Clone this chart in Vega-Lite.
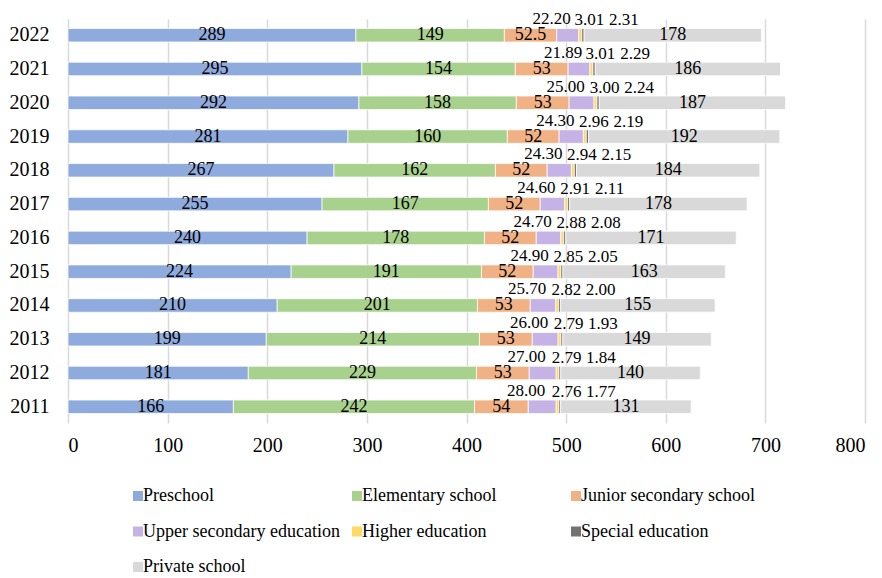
{
  "$schema": "https://vega.github.io/schema/vega-lite/v6.json",
  "width": 797,
  "height": 404,
  "autosize": {"type": "none"},
  "padding": {"left": 68, "top": 19, "right": 17, "bottom": 155},
  "background": "white",
  "config": {
    "view": {"stroke": null},
    "font": "Liberation Serif",
    "text": {"font": "Liberation Serif", "color": "black"},
    "legend": {"labelFont": "Liberation Serif", "labelFontSize": 18, "labelColor": "black"},
    "axis": {"labelFont": "Liberation Serif"}
  },
  "data": {
    "values": [
      {"year": "2022", "category": "Preschool", "value": 289},
      {"year": "2022", "category": "Elementary school", "value": 149},
      {"year": "2022", "category": "Junior secondary school", "value": 52.5},
      {"year": "2022", "category": "Upper secondary education", "value": 22.20},
      {"year": "2022", "category": "Higher education", "value": 3.01},
      {"year": "2022", "category": "Special education", "value": 2.31},
      {"year": "2022", "category": "Private school", "value": 178},
      {"year": "2021", "category": "Preschool", "value": 295},
      {"year": "2021", "category": "Elementary school", "value": 154},
      {"year": "2021", "category": "Junior secondary school", "value": 53},
      {"year": "2021", "category": "Upper secondary education", "value": 21.89},
      {"year": "2021", "category": "Higher education", "value": 3.01},
      {"year": "2021", "category": "Special education", "value": 2.29},
      {"year": "2021", "category": "Private school", "value": 186},
      {"year": "2020", "category": "Preschool", "value": 292},
      {"year": "2020", "category": "Elementary school", "value": 158},
      {"year": "2020", "category": "Junior secondary school", "value": 53},
      {"year": "2020", "category": "Upper secondary education", "value": 25.00},
      {"year": "2020", "category": "Higher education", "value": 3.00},
      {"year": "2020", "category": "Special education", "value": 2.24},
      {"year": "2020", "category": "Private school", "value": 187},
      {"year": "2019", "category": "Preschool", "value": 281},
      {"year": "2019", "category": "Elementary school", "value": 160},
      {"year": "2019", "category": "Junior secondary school", "value": 52},
      {"year": "2019", "category": "Upper secondary education", "value": 24.30},
      {"year": "2019", "category": "Higher education", "value": 2.96},
      {"year": "2019", "category": "Special education", "value": 2.19},
      {"year": "2019", "category": "Private school", "value": 192},
      {"year": "2018", "category": "Preschool", "value": 267},
      {"year": "2018", "category": "Elementary school", "value": 162},
      {"year": "2018", "category": "Junior secondary school", "value": 52},
      {"year": "2018", "category": "Upper secondary education", "value": 24.30},
      {"year": "2018", "category": "Higher education", "value": 2.94},
      {"year": "2018", "category": "Special education", "value": 2.15},
      {"year": "2018", "category": "Private school", "value": 184},
      {"year": "2017", "category": "Preschool", "value": 255},
      {"year": "2017", "category": "Elementary school", "value": 167},
      {"year": "2017", "category": "Junior secondary school", "value": 52},
      {"year": "2017", "category": "Upper secondary education", "value": 24.60},
      {"year": "2017", "category": "Higher education", "value": 2.91},
      {"year": "2017", "category": "Special education", "value": 2.11},
      {"year": "2017", "category": "Private school", "value": 178},
      {"year": "2016", "category": "Preschool", "value": 240},
      {"year": "2016", "category": "Elementary school", "value": 178},
      {"year": "2016", "category": "Junior secondary school", "value": 52},
      {"year": "2016", "category": "Upper secondary education", "value": 24.70},
      {"year": "2016", "category": "Higher education", "value": 2.88},
      {"year": "2016", "category": "Special education", "value": 2.08},
      {"year": "2016", "category": "Private school", "value": 171},
      {"year": "2015", "category": "Preschool", "value": 224},
      {"year": "2015", "category": "Elementary school", "value": 191},
      {"year": "2015", "category": "Junior secondary school", "value": 52},
      {"year": "2015", "category": "Upper secondary education", "value": 24.90},
      {"year": "2015", "category": "Higher education", "value": 2.85},
      {"year": "2015", "category": "Special education", "value": 2.05},
      {"year": "2015", "category": "Private school", "value": 163},
      {"year": "2014", "category": "Preschool", "value": 210},
      {"year": "2014", "category": "Elementary school", "value": 201},
      {"year": "2014", "category": "Junior secondary school", "value": 53},
      {"year": "2014", "category": "Upper secondary education", "value": 25.70},
      {"year": "2014", "category": "Higher education", "value": 2.82},
      {"year": "2014", "category": "Special education", "value": 2.00},
      {"year": "2014", "category": "Private school", "value": 155},
      {"year": "2013", "category": "Preschool", "value": 199},
      {"year": "2013", "category": "Elementary school", "value": 214},
      {"year": "2013", "category": "Junior secondary school", "value": 53},
      {"year": "2013", "category": "Upper secondary education", "value": 26.00},
      {"year": "2013", "category": "Higher education", "value": 2.79},
      {"year": "2013", "category": "Special education", "value": 1.93},
      {"year": "2013", "category": "Private school", "value": 149},
      {"year": "2012", "category": "Preschool", "value": 181},
      {"year": "2012", "category": "Elementary school", "value": 229},
      {"year": "2012", "category": "Junior secondary school", "value": 53},
      {"year": "2012", "category": "Upper secondary education", "value": 27.00},
      {"year": "2012", "category": "Higher education", "value": 2.79},
      {"year": "2012", "category": "Special education", "value": 1.84},
      {"year": "2012", "category": "Private school", "value": 140},
      {"year": "2011", "category": "Preschool", "value": 166},
      {"year": "2011", "category": "Elementary school", "value": 242},
      {"year": "2011", "category": "Junior secondary school", "value": 54},
      {"year": "2011", "category": "Upper secondary education", "value": 28.00},
      {"year": "2011", "category": "Higher education", "value": 2.76},
      {"year": "2011", "category": "Special education", "value": 1.77},
      {"year": "2011", "category": "Private school", "value": 131}
    ]
  },
  "transform": [
    {"calculate": "indexof(['Preschool','Elementary school','Junior secondary school','Upper secondary education','Higher education','Special education','Private school'], datum.category)", "as": "ord"},
    {"stack": "value", "groupby": ["year"], "sort": [{"field": "ord", "order": "ascending"}], "as": ["x0", "x1"]},
    {"calculate": "(datum.x0 + datum.x1) / 2", "as": "mid"}
  ],
  "encoding": {
    "y": {
      "field": "year",
      "type": "ordinal",
      "sort": "descending",
      "scale": {"paddingInner": 0.6, "paddingOuter": 0.28},
      "axis": {
        "title": null,
        "domain": false,
        "ticks": false,
        "grid": false,
        "labelFont": "Liberation Serif",
        "labelFontSize": 20,
        "labelColor": "black",
        "labelPadding": 19
      }
    }
  },
  "layer": [
    {
      "mark": {"type": "bar", "stroke": "white", "strokeWidth": 0.75},
      "encoding": {
        "x": {
          "field": "x0",
          "type": "quantitative",
          "scale": {"domain": [0, 800], "nice": false},
          "axis": {
            "title": null,
            "values": [0, 100, 200, 300, 400, 500, 600, 700, 800],
            "domain": false,
            "ticks": false,
            "grid": true,
            "gridColor": "#D9D9D9",
            "gridWidth": 1.5,
            "labelFont": "Liberation Serif",
            "labelFontSize": 20,
            "labelColor": "black",
            "labelPadding": 12
          }
        },
        "x2": {"field": "x1"},
        "color": {
          "field": "category",
          "type": "nominal",
          "sort": ["Preschool", "Elementary school", "Junior secondary school", "Upper secondary education", "Higher education", "Special education", "Private school"],
          "scale": {
            "domain": ["Preschool", "Elementary school", "Junior secondary school", "Upper secondary education", "Higher education", "Special education", "Private school"],
            "range": ["#8FAADC", "#A9D18E", "#F0B184", "#C5B3E6", "#FFD966", "#767171", "#D9D9D9"]
          },
          "legend": {
            "orient": "none",
            "legendX": 61,
            "legendY": 468,
            "direction": "horizontal",
            "columns": 3,
            "title": null,
            "symbolType": "square",
            "symbolSize": 100,
            "symbolStrokeWidth": 0,
            "labelFont": "Liberation Serif",
            "labelFontSize": 18,
            "labelColor": "black",
            "labelOffset": -4,
            "labelLimit": 0,
            "rowPadding": 17.5,
            "columnPadding": 8,
            "gridAlign": "all",
            "padding": 0
          }
        }
      }
    },
    {
      "transform": [{"filter": "indexof(['Preschool','Elementary school','Junior secondary school','Private school'], datum.category) >= 0"}],
      "mark": {"type": "text", "font": "Liberation Serif", "fontSize": 18, "baseline": "middle", "align": "center", "color": "black"},
      "encoding": {
        "x": {"field": "mid", "type": "quantitative"},
        "text": {"field": "value", "type": "nominal"}
      }
    },
    {
      "transform": [{"filter": "datum.category === 'Upper secondary education'"}],
      "mark": {"type": "text", "font": "Liberation Serif", "fontSize": 17, "baseline": "middle", "align": "center", "color": "black", "dx": -16, "dy": -16},
      "encoding": {
        "x": {"field": "mid", "type": "quantitative"},
        "text": {"field": "value", "type": "quantitative", "format": ".2f"}
      }
    },
    {
      "transform": [{"filter": "datum.category === 'Higher education'"}],
      "mark": {"type": "text", "font": "Liberation Serif", "fontSize": 17, "baseline": "middle", "align": "center", "color": "black", "dx": 9, "dy": -15},
      "encoding": {
        "x": {"field": "mid", "type": "quantitative"},
        "text": {"field": "value", "type": "quantitative", "format": ".2f"}
      }
    },
    {
      "transform": [{"filter": "datum.category === 'Special education'"}],
      "mark": {"type": "text", "font": "Liberation Serif", "fontSize": 17, "baseline": "middle", "align": "center", "color": "black", "dx": 41, "dy": -15},
      "encoding": {
        "x": {"field": "mid", "type": "quantitative"},
        "text": {"field": "value", "type": "quantitative", "format": ".2f"}
      }
    }
  ]
}
